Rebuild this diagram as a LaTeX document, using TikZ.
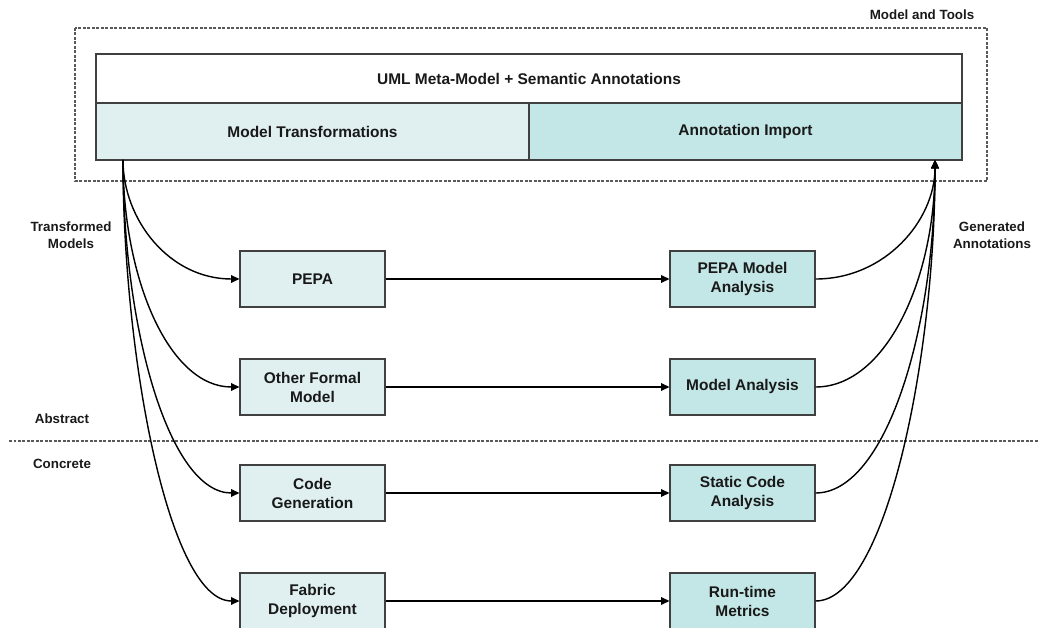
\documentclass[tikz,border=0pt]{standalone}
\usepackage{fontspec}
\setmainfont{Liberation Sans}
\usetikzlibrary{arrows.meta}
\definecolor{trfill}{HTML}{E0F0F0}
\definecolor{anfill}{HTML}{C3E6E6}
\definecolor{edgegrey}{HTML}{404040}
\tikzset{
  bx/.style={draw=edgegrey, line width=0.9pt, minimum width=3.62cm, minimum height=1.4cm,
             align=center, inner sep=1pt, text=black!90, font=\fontsize{11}{13.5}\selectfont\bfseries},
  tr/.style={bx, fill=trfill},                                                  % transformation box
  an/.style={bx, fill=anfill},                                                  % analysis box
  fe/.style={draw=black, line width=1pt, -{Triangle[length=2.1mm,width=1.9mm]}}, % flow edge
  sep/.style={draw=black!65, line width=0.8pt, dash pattern=on 2pt off 1.2pt},  % dashed separator
  lbl/.style={font=\fontsize{9.5}{12}\selectfont\bfseries, text=black!90, align=center, inner sep=0pt},
}

\begin{document}
\begin{tikzpicture}[x=0.025cm, y=-0.025cm]
  \useasboundingbox (0,0) rectangle (1038,628);
  % model and tools
  \draw[sep] (75,28) rectangle (987,181);
  \node[lbl] (tools) at (922,15) {Model and Tools};
  \node[bx, fill=white, minimum width=21.65cm, minimum height=1.225cm] (uml) at (529,78.5) {UML Meta-Model + Semantic Annotations};
  \node[tr, minimum width=10.825cm, minimum height=1.425cm] (mt) at (312.5,131.5) {Model Transformations};
  \node[an, minimum width=10.825cm, minimum height=1.425cm] (ai) at (745.5,131.5) {Annotation Import};
  \coordinate (src) at (123,160);
  \coordinate (dst) at (935,160);
  % abstract / concrete
  \draw[sep] (9,441) -- (1038,441);
  \node[lbl] (abs) at (62,419) {Abstract};
  \node[lbl] (con) at (62,464) {Concrete};
  \node[lbl] (tm) at (71,235) {Transformed\\Models};
  \node[lbl] (ga) at (992,235) {Generated\\Annotations};
  % tools
  \node[tr] (pepa) at (312.5,279) {PEPA};
  \node[tr] (ofm)  at (312.5,387) {Other Formal\\Model};
  \node[tr] (cg)   at (312.5,493) {Code\\Generation};
  \node[tr] (fd)   at (312.5,601) {Fabric\\Deployment};
  \node[an] (pma)  at (742.5,279) {PEPA Model\\Analysis};
  \node[an] (ma)   at (742.5,387) {Model Analysis};
  \node[an] (sca)  at (742.5,493) {Static Code\\Analysis};
  \node[an] (rtm)  at (742.5,601) {Run-time\\Metrics};
  \foreach \l/\r/\d in {pepa/pma/60,ofm/ma/120,cg/sca/170,fd/rtm/200}{
    \draw[fe] (src) .. controls +(0,\d) and +(-70,0) .. (\l.west);
    \draw[fe] (\l) -- (\r);
    \draw[fe] (\r.east) .. controls +(70,0) and +(0,\d) .. (dst);
  }
\end{tikzpicture}
\end{document}
